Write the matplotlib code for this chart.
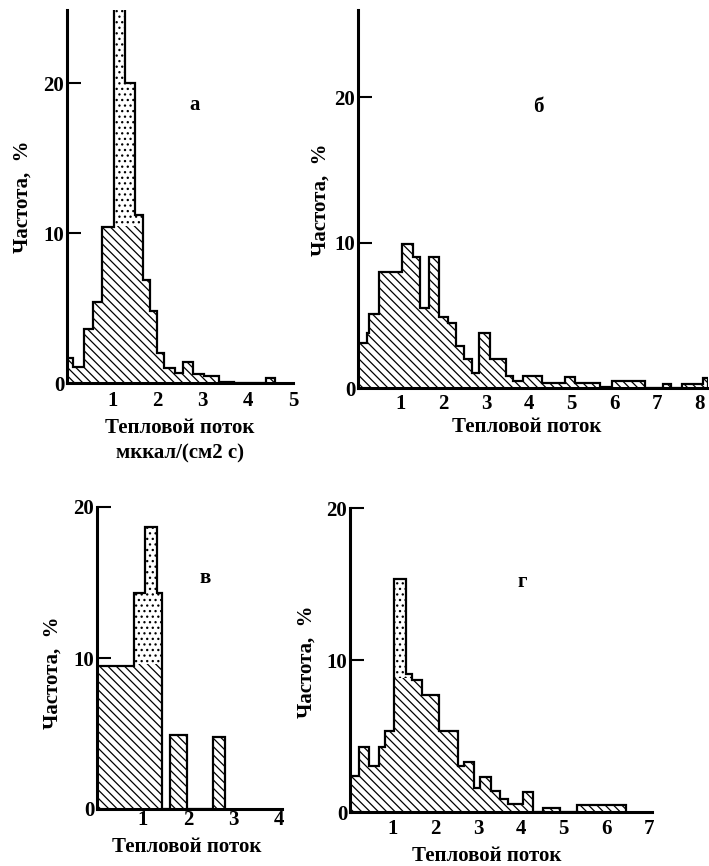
import numpy as np
import matplotlib
matplotlib.use("Agg")
import matplotlib.pyplot as plt

plt.rcParams['font.family'] = ['Liberation Serif', 'DejaVu Serif']
plt.rcParams['font.weight'] = 'bold'
plt.rcParams['hatch.color'] = 'black'
plt.rcParams['hatch.linewidth'] = 0.9

# bin edges (heat flow) and frequencies (%)
a_edges = [0, 0.13, 0.37, 0.58, 0.77, 1.03, 1.29, 1.51, 1.68, 1.83, 1.99,
           2.15, 2.40, 2.57, 2.79, 3.02, 3.36, 3.69, 4.40, 4.60]
a_freq = [1.7, 1.1, 3.6, 5.4, 10.4, 27.0, 20.0, 11.2, 6.9, 4.8,
          2.0, 1.0, 0.7, 1.4, 0.6, 0.5, 0.1, 0.0, 0.35]

b_edges = [0, 0.21, 0.26, 0.49, 1.04, 1.29, 1.45, 1.66, 1.90, 2.11,
           2.29, 2.48, 2.68, 2.84, 3.09, 3.46, 3.63, 3.87, 4.30, 4.84,
           5.08, 5.66, 5.94, 6.72, 7.15, 7.34, 7.58, 8.09, 8.20]
b_freq = [3.1, 3.8, 5.1, 8.0, 9.9, 9.0, 5.5, 9.0, 4.9, 4.5,
          2.9, 2.0, 1.0, 3.8, 2.0, 0.85, 0.45, 0.85, 0.35, 0.75,
          0.35, 0.1, 0.5, 0.0, 0.25, 0.0, 0.3, 0.7]

v_edges = [0, 0.81, 1.06, 1.32, 1.44, 1.60, 1.98, 2.56, 2.81]
v_freq = [9.5, 14.3, 18.7, 14.3, 0.0, 4.9, 0.0, 4.8]

g_edges = [0, 0.22, 0.45, 0.69, 0.82, 1.03, 1.31, 1.45, 1.68, 2.09,
           2.52, 2.66, 2.91, 3.05, 3.30, 3.50, 3.69, 4.06, 4.28, 4.52,
           4.92, 5.31, 5.84, 6.45]
g_freq = [2.4, 4.3, 3.0, 4.3, 5.3, 15.3, 9.1, 8.7, 7.7, 5.3,
          3.0, 3.3, 1.6, 2.3, 1.4, 0.85, 0.5, 1.3, 0.0, 0.26,
          0.0, 0.45, 0.45]

x_label = 'Тепловой поток'
x_units = 'мккал/(см2 с)'
y_label = 'Частота,  %'

W, H = 709, 866
fig = plt.figure(figsize=(W / 100, H / 100), dpi=100)


def px_axes(x0, y_zero, x_end, y_top):
    # axes rectangle given in pixel coords of the picture
    return fig.add_axes([x0 / W, 1 - y_zero / H, (x_end - x0) / W, (y_zero - y_top) / H])


def draw_panel(ax, edges, freq, xmax, ymax, xticks, letter, letter_xy, cap, xpad):
    freq = np.array(freq)
    # stippled upper part
    ax.stairs(freq, edges, fill=True, facecolor='white', edgecolor='black',
              hatch='...', linewidth=0)
    # diagonal hatched lower part
    ax.stairs(np.minimum(freq, cap), edges, fill=True, facecolor='white',
              edgecolor='black', hatch='\\' * 4, linewidth=0)
    ax.stairs(freq, edges, fill=False, edgecolor='black', linewidth=1.6, baseline=0)
    ax.set_xlim(0, xmax)
    ax.set_ylim(0, ymax)
    for s in ['top', 'right']:
        ax.spines[s].set_visible(False)
    for s in ['left', 'bottom']:
        ax.spines[s].set_linewidth(2.2)
    ax.set_yticks([0, 10, 20])
    ax.set_yticklabels(['0', '10', '20'])
    ax.set_xticks(xticks)
    ax.set_xticklabels([str(t) for t in xticks])
    ax.tick_params(axis='y', direction='in', length=10, width=1.5, pad=2, labelsize=15)
    ax.tick_params(axis='x', length=0, pad=xpad, labelsize=15)
    ax.patch.set_alpha(0)
    fig.text(letter_xy[0] / W, 1 - letter_xy[1] / H, letter, fontsize=15,
             ha='center', va='center')


ax_a = px_axes(67, 383, 293, 10)
draw_panel(ax_a, a_edges, a_freq, 5.0, 24.9, [1, 2, 3, 4, 5], 'а', (195, 105), 10.5, 6)
fig.text(180 / W, 1 - 428 / H, x_label, fontsize=15, ha='center', va='center')
fig.text(180 / W, 1 - 453 / H, x_units, fontsize=15, ha='center', va='center')
fig.text(23 / W, 1 - 197 / H, y_label, fontsize=15, rotation=90, ha='center', va='center')

ax_b = px_axes(358, 388, 708, 10)
draw_panel(ax_b, b_edges, b_freq, 8.2, 26.0, [1, 2, 3, 4, 5, 6, 7, 8], 'б', (538, 107), 100, 4)
fig.text(527 / W, 1 - 427 / H, x_label, fontsize=15, ha='center', va='center')
fig.text(321 / W, 1 - 200 / H, y_label, fontsize=15, rotation=90, ha='center', va='center')

ax_v = px_axes(97, 809, 282, 507)
draw_panel(ax_v, v_edges, v_freq, 4.07, 20.0, [1, 2, 3, 4], 'в', (205, 578), 9.6, 1)
fig.text(187 / W, 1 - 847 / H, x_label, fontsize=15, ha='center', va='center')
fig.text(53 / W, 1 - 673 / H, y_label, fontsize=15, rotation=90, ha='center', va='center')

ax_g = px_axes(350, 812, 652, 508)
draw_panel(ax_g, g_edges, g_freq, 7.07, 20.0, [1, 2, 3, 4, 5, 6, 7], 'г', (522, 582), 8.8, 5)
fig.text(487 / W, 1 - 856 / H, x_label, fontsize=15, ha='center', va='center')
fig.text(307 / W, 1 - 662 / H, y_label, fontsize=15, rotation=90, ha='center', va='center')

fig.savefig('out.png', dpi=100)
